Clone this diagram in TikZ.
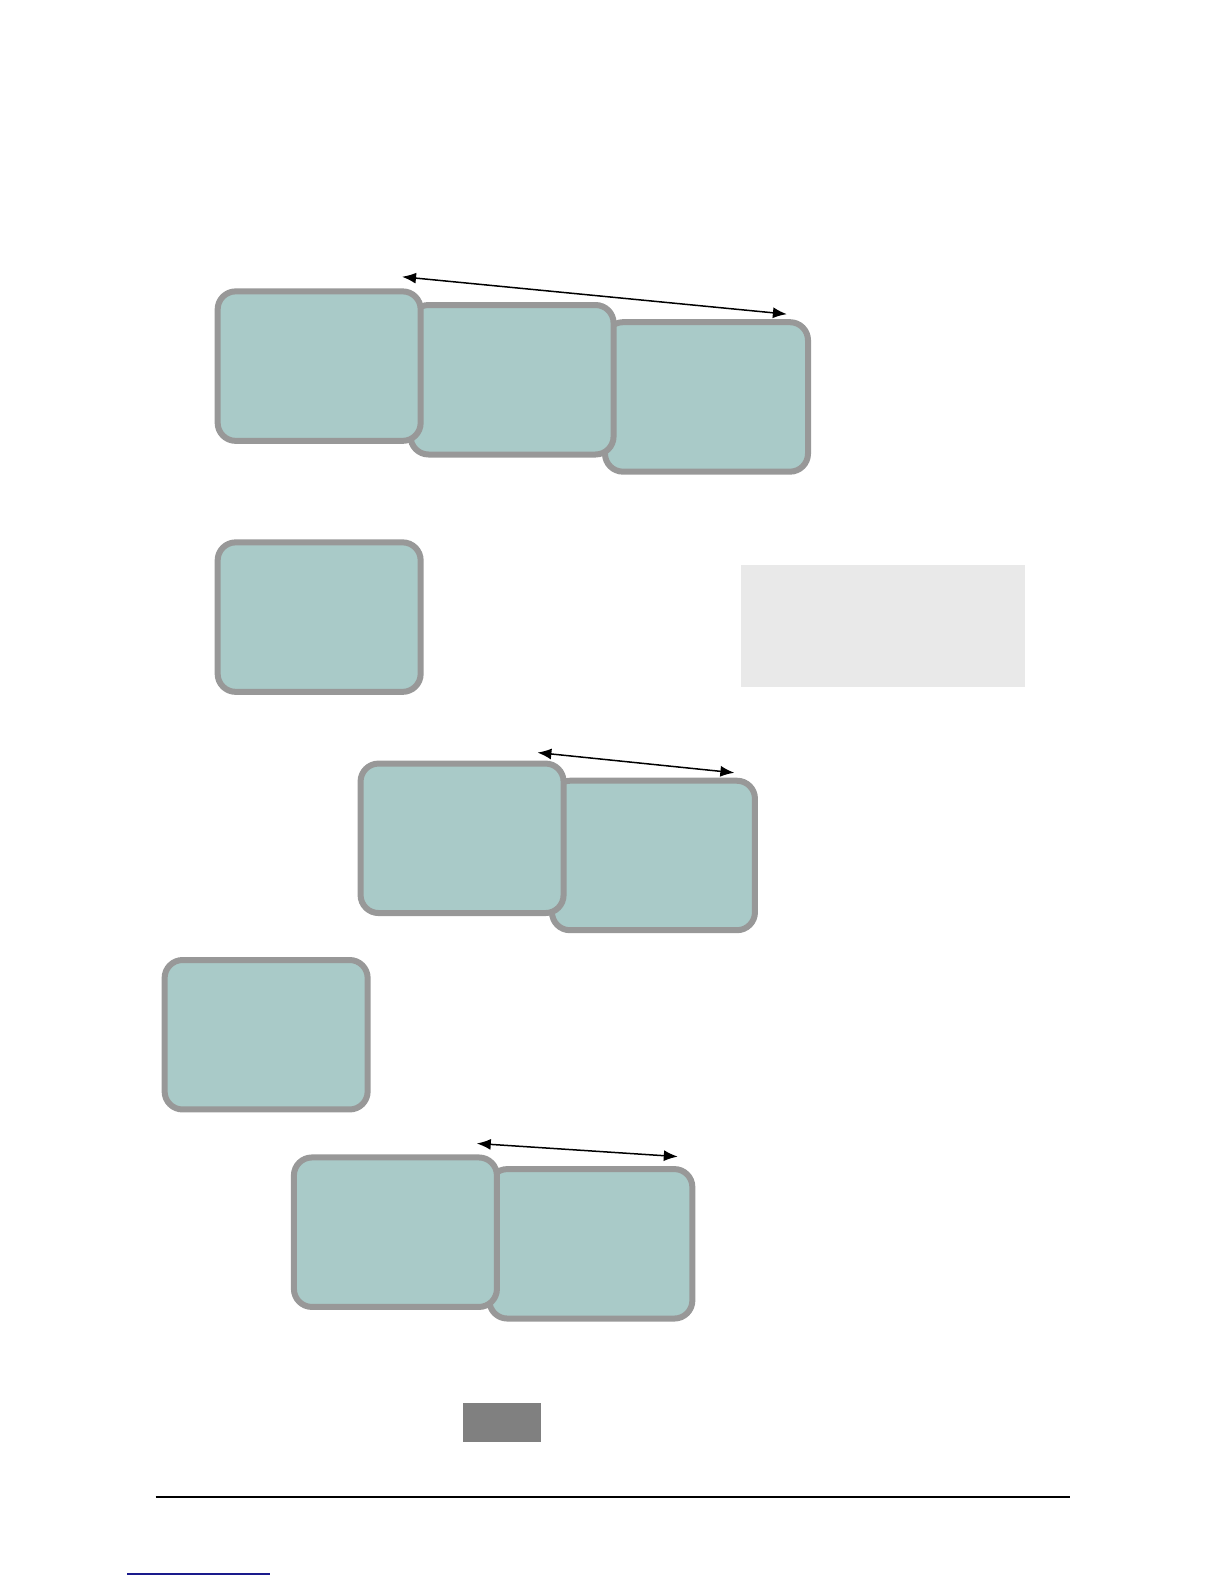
\documentclass[tikz,border=0pt]{standalone}
\usetikzlibrary{arrows.meta}
\definecolor{boxfill}{HTML}{A9CAC8}
\definecolor{boxline}{HTML}{989898}
\definecolor{lightpanel}{HTML}{E9E9E9}
\definecolor{darkpanel}{HTML}{808080}
\definecolor{linkblue}{HTML}{1A1A8C}
\begin{document}
\begin{tikzpicture}[x=1bp,y=-1bp,
  tealbox/.style={draw=boxline, fill=boxfill, line width=6bp, rounded corners=18bp,
    minimum width=201bp, minimum height=148bp, inner sep=0pt, outer sep=0pt},
  span/.style={{Latex[length=14bp,width=11bp]}-{Latex[length=14bp,width=11bp]}, line width=1.5bp, black}]
\useasboundingbox (0,0) rectangle (1224,1584);
\begin{scope}[scale=1.01, transform shape]
% row 1 (back to front)
\node[tealbox] (b3) at (699.5,393) {};
\node[tealbox] (b2) at (507,376) {};
\node[tealbox] (b1) at (316,362.5) {};
\coordinate (a1s) at (398,274);
\coordinate (a1e) at (779,311);
\draw[span] (a1s) -- (a1e);
% row 2
\node[tealbox] (b4) at (316,611) {};
\node[fill=lightpanel, minimum width=281bp, minimum height=121bp, inner sep=0pt] (panel) at (874.5,619.5) {};
% row 3
\node[tealbox] (b6) at (647,847) {};
\node[tealbox] (b5) at (457.5,830) {};
\coordinate (a2s) at (532,745);
\coordinate (a2e) at (727,765);
\draw[span] (a2s) -- (a2e);
% row 4
\node[tealbox] (b7) at (263.5,1024.5) {};
% row 5
\node[tealbox] (b9) at (585,1231.5) {};
\node[tealbox] (b8) at (391.5,1220) {};
\coordinate (a3s) at (472,1132);
\coordinate (a3e) at (671,1145);
\draw[span] (a3s) -- (a3e);
% bottom elements
\node[fill=darkpanel, minimum width=78bp, minimum height=39bp, inner sep=0pt] (dark) at (497,1408.5) {};
\coordinate (r1) at (154,1482);
\coordinate (r2) at (1059,1482);
\draw[line width=1.5bp, black] (r1) -- (r2);
\coordinate (l1) at (126,1558);
\coordinate (l2) at (267,1558);
\draw[line width=1.5bp, linkblue] (l1) -- (l2);
\end{scope}
\end{tikzpicture}
\end{document}
